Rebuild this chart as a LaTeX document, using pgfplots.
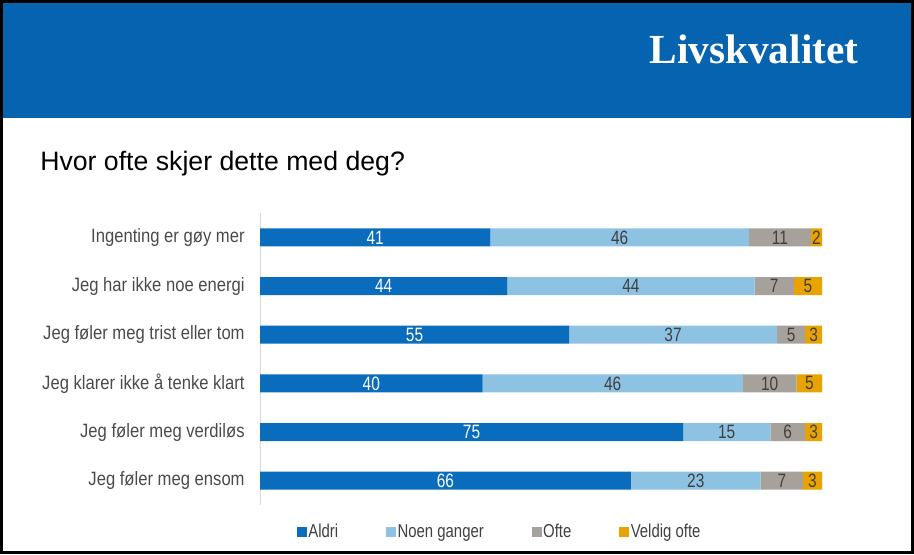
\documentclass[border=0pt]{standalone}
\usepackage{fontspec}
\setmainfont{Liberation Sans}
\newfontfamily\narrowA[FakeStretch=0.86]{Liberation Sans}
\newfontfamily\narrowB[FakeStretch=0.8]{Liberation Sans}
\newfontfamily\narrowC[FakeStretch=0.8]{Liberation Sans}
\newfontfamily\headfont{Liberation Serif}
\usepackage{pgfplots}
\pgfplotsset{compat=1.18}
\usepackage{pgfplotstable}

\definecolor{headblue}{HTML}{0563AF}
\definecolor{cA}{HTML}{0A6CBD}
\definecolor{cN}{HTML}{8DC2E3}
\definecolor{cO}{HTML}{A7A19C}
\definecolor{cV}{HTML}{E8A300}
\definecolor{labgray}{HTML}{4A4A4A}
\definecolor{valgray}{HTML}{404040}

% drawn lengths and printed labels
\pgfplotstableread{
row aldri noen ofte veldig la ln lo lv
0 41   46   11  2   41 46 11 2
1 44   44   7   5   44 44 7  5
2 55   37   5   3   55 37 5  3
3 39.6 46.3 9.6 4.5 40 46 10 5
4 75.3 15.5 6.2 3.0 75 15 6  3
5 66.0 23.1 7.5 3.4 66 23 7  3
}\datatable

\begin{document}
\begin{tikzpicture}
\useasboundingbox (0,0) rectangle (685.5pt,-415.5pt);
\fill[headblue] (0,0) rectangle (685.5pt,-88.5pt);
\node[anchor=base, text=white, font=\headfont\bfseries\fontsize{31}{31}\selectfont, inner sep=0] at (565.5pt,-47.25pt) {Livskvalitet};
\node[anchor=base west, text=black, font=\fontsize{20}{20}\selectfont, inner sep=0] at (30pt,-127.5pt) {Hvor ofte skjer dette med deg?};
\begin{axis}[
  at={(195pt,-378.75pt)}, anchor=south west,
  scale only axis, width=421.5pt, height=219pt,
  xbar stacked, bar width=13.5pt,
  xmin=0, xmax=100, ymin=-0.5, ymax=5.5, y dir=reverse,
  axis x line=none,
  axis y line*=left,
  y axis line style={draw=black!15, line width=0.75pt, -},
  ytick={0,...,5},
  yticklabels={Ingenting er gøy mer, Jeg har ikke noe energi, Jeg føler meg trist eller tom, Jeg klarer ikke å tenke klart, Jeg føler meg verdiløs, Jeg føler meg ensom},
  major tick length=0pt,
  yticklabel style={font=\narrowA\fontsize{14.5}{14.5}\selectfont, text=labgray, xshift=-8pt},
  /pgf/number format/assume math mode=true,
  point meta=explicit,
  nodes near coords,
  nodes near coords align=center,
  every node near coord/.append style={anchor=center, text=valgray, font=\narrowB\fontsize{14.5}{14.5}\selectfont},
  legend columns=4,
  legend image code/.code={\fill[#1] (0pt,-3.75pt) rectangle (7.5pt,3.75pt);},
  legend style={at={(0.426,-0.0925)}, anchor=center, draw=none, fill=none, text=valgray,
    font=\narrowC\fontsize{14}{14}\selectfont,
    nodes={inner sep=1pt},
    /tikz/every even column/.append style={column sep=35pt}},
]
\addplot[fill=cA, draw=none, every node near coord/.append style={text=white}] table[x=aldri,y=row,meta=la]{\datatable};
\addplot[fill=cN, draw=none] table[x=noen,y=row,meta=ln]{\datatable};
\addplot[fill=cO, draw=none] table[x=ofte,y=row,meta=lo]{\datatable};
\addplot[fill=cV, draw=none] table[x=veldig,y=row,meta=lv]{\datatable};
\legend{Aldri, Noen ganger, Ofte, Veldig ofte}
\end{axis}
\draw[black, line width=2.25pt] (1.125pt,-1.125pt) rectangle (684.375pt,-414.375pt);
\end{tikzpicture}
\end{document}
